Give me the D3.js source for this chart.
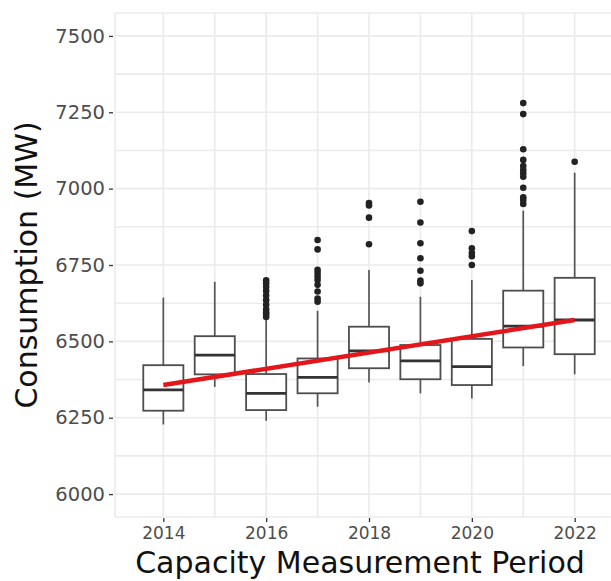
<!DOCTYPE html>
<html>
<head>
<meta charset="utf-8">
<script src="https://cdn.jsdelivr.net/npm/d3@7"></script>
<style>
  body { margin: 0; background: #fff; }
  svg { display: block; font-family: "DejaVu Sans", sans-serif; }
</style>
</head>
<body>
<script>
// Yearly consumption summaries
var years       = [2014, 2015, 2016, 2017, 2018, 2019, 2020, 2021, 2022];
var whiskerLow  = [6228, 6351, 6240, 6286, 6365, 6330, 6313, 6419, 6392];
var q1          = [6273, 6392, 6275, 6330, 6412, 6376, 6357, 6480, 6458];
var medians     = [6341, 6455, 6330, 6382, 6469, 6436, 6417, 6550, 6570];
var q3          = [6422, 6517, 6393, 6444, 6548, 6488, 6508, 6666, 6708];
var whiskerHigh = [6643, 6695, 6570, 6600, 6734, 6646, 6701, 6928, 7052];
var outliers = [
  [],
  [],
  [6700, 6690, 6678, 6665, 6650, 6635, 6620, 6605, 6595, 6588, 6580],
  [6832, 6801, 6734, 6724, 6712, 6701, 6685, 6663, 6640, 6630],
  [6953, 6945, 6905, 6818],
  [6957, 6889, 6821, 6772, 6731, 6699, 6690],
  [6861, 6805, 6789, 6779, 6750],
  [7280, 7244, 7129, 7094, 7074, 7061, 7050, 7039, 7003, 6972, 6963, 6950],
  [7088]
];
// Linear trend through the medians
var trendYears  = [2014, 2022];
var trendValues = [6357, 6570];

var yTicks = [6000, 6250, 6500, 6750, 7000, 7250, 7500];
var yMinor = [5925, 6125, 6375, 6625, 6875, 7125, 7375, 7575];
var xTicks = [2014, 2016, 2018, 2020, 2022];
var xMinor = [2015, 2017, 2019, 2021];

function chart() {
  var w = 611, h = 581;
  var pLeft = 115, pRight = 623, pTop = 13, pBottom = 517;

  var svg = d3.select("body").append("svg")
    .attr("width", w)
    .attr("height", h);

  var x = d3.scaleLinear().domain([2013.06, 2022.94]).range([pLeft, pRight]);
  var y = d3.scaleLinear().domain([5925, 7575]).range([pBottom, pTop]);

  var grid = svg.append("g")
    .attr("stroke", "#ebebeb")
    .attr("stroke-width", 1.6);

  grid.selectAll(".hy")
    .data(yTicks.concat(yMinor))
    .enter().append("line")
    .attr("x1", pLeft).attr("x2", pRight)
    .attr("y1", function (d) { return y(d); })
    .attr("y2", function (d) { return y(d); });

  grid.selectAll(".vx")
    .data(xTicks.concat(xMinor))
    .enter().append("line")
    .attr("y1", pTop).attr("y2", pBottom)
    .attr("x1", function (d) { return x(d); })
    .attr("x2", function (d) { return x(d); });

  grid.append("line")
    .attr("x1", pLeft).attr("x2", pLeft)
    .attr("y1", pTop).attr("y2", pBottom);

  // Axes
  var yAxis = svg.append("g")
    .attr("transform", "translate(" + (pLeft - 2) + ",0)")
    .call(d3.axisLeft(y).tickValues(yTicks).tickSize(4).tickPadding(4).tickFormat(d3.format("d")));

  var xAxis = svg.append("g")
    .attr("transform", "translate(0," + (pBottom + 1) + ")")
    .call(d3.axisBottom(x).tickValues(xTicks).tickSize(4).tickPadding(5).tickFormat(d3.format("d")));

  [yAxis, xAxis].forEach(function (a) {
    a.select(".domain").remove();
    a.selectAll(".tick line").attr("stroke", "#333").attr("stroke-width", 1.3);
    a.selectAll(".tick text").attr("fill", "#4d4d4d").attr("font-family", "DejaVu Sans");
  });
  yAxis.selectAll(".tick text").attr("font-size", "19.5px");
  xAxis.selectAll(".tick text").attr("font-size", "17px");

  // Boxplots
  var boxW = 0.78;
  var boxes = svg.selectAll(".box")
    .data(years)
    .enter().append("g");

  boxes.append("line")
    .attr("x1", function (d) { return x(d); })
    .attr("x2", function (d) { return x(d); })
    .attr("y1", function (d, i) { return y(whiskerHigh[i]); })
    .attr("y2", function (d, i) { return y(q3[i]); })
    .attr("stroke", "#555").attr("stroke-width", 1.7);

  boxes.append("line")
    .attr("x1", function (d) { return x(d); })
    .attr("x2", function (d) { return x(d); })
    .attr("y1", function (d, i) { return y(q1[i]); })
    .attr("y2", function (d, i) { return y(whiskerLow[i]); })
    .attr("stroke", "#555").attr("stroke-width", 1.7);

  boxes.append("rect")
    .attr("x", function (d) { return x(d - boxW / 2); })
    .attr("width", function (d) { return x(d + boxW / 2) - x(d - boxW / 2); })
    .attr("y", function (d, i) { return y(q3[i]); })
    .attr("height", function (d, i) { return y(q1[i]) - y(q3[i]); })
    .attr("fill", "#fff")
    .attr("stroke", "#4d4d4d").attr("stroke-width", 1.8);

  boxes.append("line")
    .attr("x1", function (d) { return x(d - boxW / 2); })
    .attr("x2", function (d) { return x(d + boxW / 2); })
    .attr("y1", function (d, i) { return y(medians[i]); })
    .attr("y2", function (d, i) { return y(medians[i]); })
    .attr("stroke", "#333").attr("stroke-width", 2.8);

  boxes.selectAll("circle")
    .data(function (d, i) { return outliers[i].map(function (v) { return [d, v]; }); })
    .enter().append("circle")
    .attr("cx", function (p) { return x(p[0]); })
    .attr("cy", function (p) { return y(p[1]); })
    .attr("r", 3.3)
    .attr("fill", "#222");

  // Trend line
  svg.append("path")
    .datum(trendYears.map(function (d, i) { return [d, trendValues[i]]; }))
    .attr("d", d3.line().x(function (p) { return x(p[0]); }).y(function (p) { return y(p[1]); }))
    .attr("stroke", "#e3171b")
    .attr("stroke-width", 4.5)
    .attr("fill", "none");

  // Titles
  svg.append("text")
    .attr("x", 360).attr("y", 573)
    .attr("text-anchor", "middle")
    .attr("font-size", "30px")
    .attr("fill", "#111")
    .text("Capacity Measurement Period");

  svg.append("text")
    .attr("transform", "translate(37,265) rotate(-90)")
    .attr("text-anchor", "middle")
    .attr("font-size", "30px")
    .attr("fill", "#111")
    .text("Consumption (MW)");
}

chart();
</script>
</body>
</html>
